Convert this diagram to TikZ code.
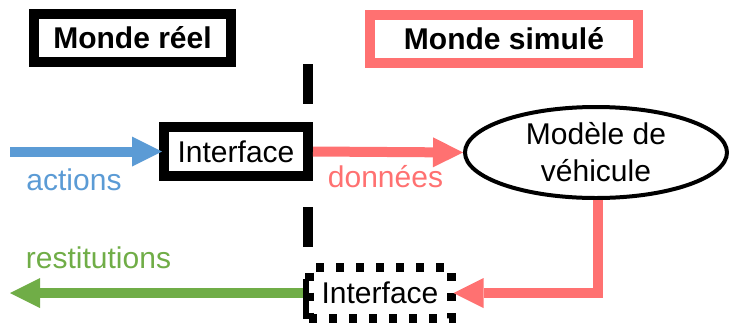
\documentclass[tikz,border=0pt]{standalone}
\usepackage{fontspec}
\setmainfont{Liberation Sans}
\usetikzlibrary{arrows.meta,shapes.geometric}
\definecolor{cblue}{HTML}{5B9BD5}
\definecolor{cpink}{HTML}{FF7171}
\definecolor{cgreen}{HTML}{70AD47}
\tikzset{
  txt/.style={font=\fontsize{30}{37}\selectfont},
  titlebox/.style={draw, line width=10pt, rectangle, inner sep=0pt,
    font=\fontsize{30}{37}\selectfont\bfseries, text height=21.5pt, text depth=0pt},
  ifbox/.style={draw, rectangle, inner sep=0pt, fill=white,
    font=\fontsize{30}{37}\selectfont, text height=21.5pt, text depth=0pt},
  flow/.style={line width=10pt, -{Triangle[length=30pt 0, width=30pt 0, line width=0pt]}},
  lbl/.style={anchor=base, inner sep=0pt, font=\fontsize{30}{37}\selectfont},
}
\begin{document}
\begin{tikzpicture}[x=1pt, y=-1pt]
\useasboundingbox (0,0) rectangle (729,325);
% dashed separator
\coordinate (sepTop) at (308,64);
\coordinate (sepBot) at (308,320);
\draw[line width=10pt, dash pattern=on 40pt off 31.5pt] (sepTop) -- (sepBot);
% titles
\node[titlebox, minimum width=197pt, minimum height=48pt] (reel) at (132.5,38) {Monde réel};
\node[titlebox, draw=cpink, minimum width=268pt, minimum height=48pt] (simu) at (504,39) {Monde simulé};
% model
\node[draw, ellipse, line width=4pt, minimum width=262pt, minimum height=91pt,
      inner sep=0pt, align=center, txt] (model) at (596,152.5) {Modèle de\\véhicule};
% interfaces
\node[ifbox, line width=10pt, minimum width=144pt, minimum height=49pt] (itop) at (236,151.5) {Interface};
\node[ifbox, line width=9pt, dash pattern=on 8pt off 12pt, minimum width=142pt, minimum height=51pt] (ibot) at (380,293) {Interface};
% connectors
\coordinate (inL) at (10,151.5);
\coordinate (outL) at (10,293);
\draw[flow, cblue] (inL) -- ([xshift=3pt]itop.west);
\draw[flow, cpink] (itop.east) -- (model.west);
\draw[flow, cpink] ([xshift=2pt]model.south) |- ([xshift=-2pt]ibot.east);
\draw[flow, cgreen] ([xshift=-2pt]ibot.west) -- (outL);
% labels
\node[lbl, text=cblue] (lact) at (74,190) {actions};
\node[lbl, text=cpink] (ldon) at (385.5,187) {données};
\node[lbl, text=cgreen] (lres) at (98.5,268) {restitutions};
\end{tikzpicture}
\end{document}
